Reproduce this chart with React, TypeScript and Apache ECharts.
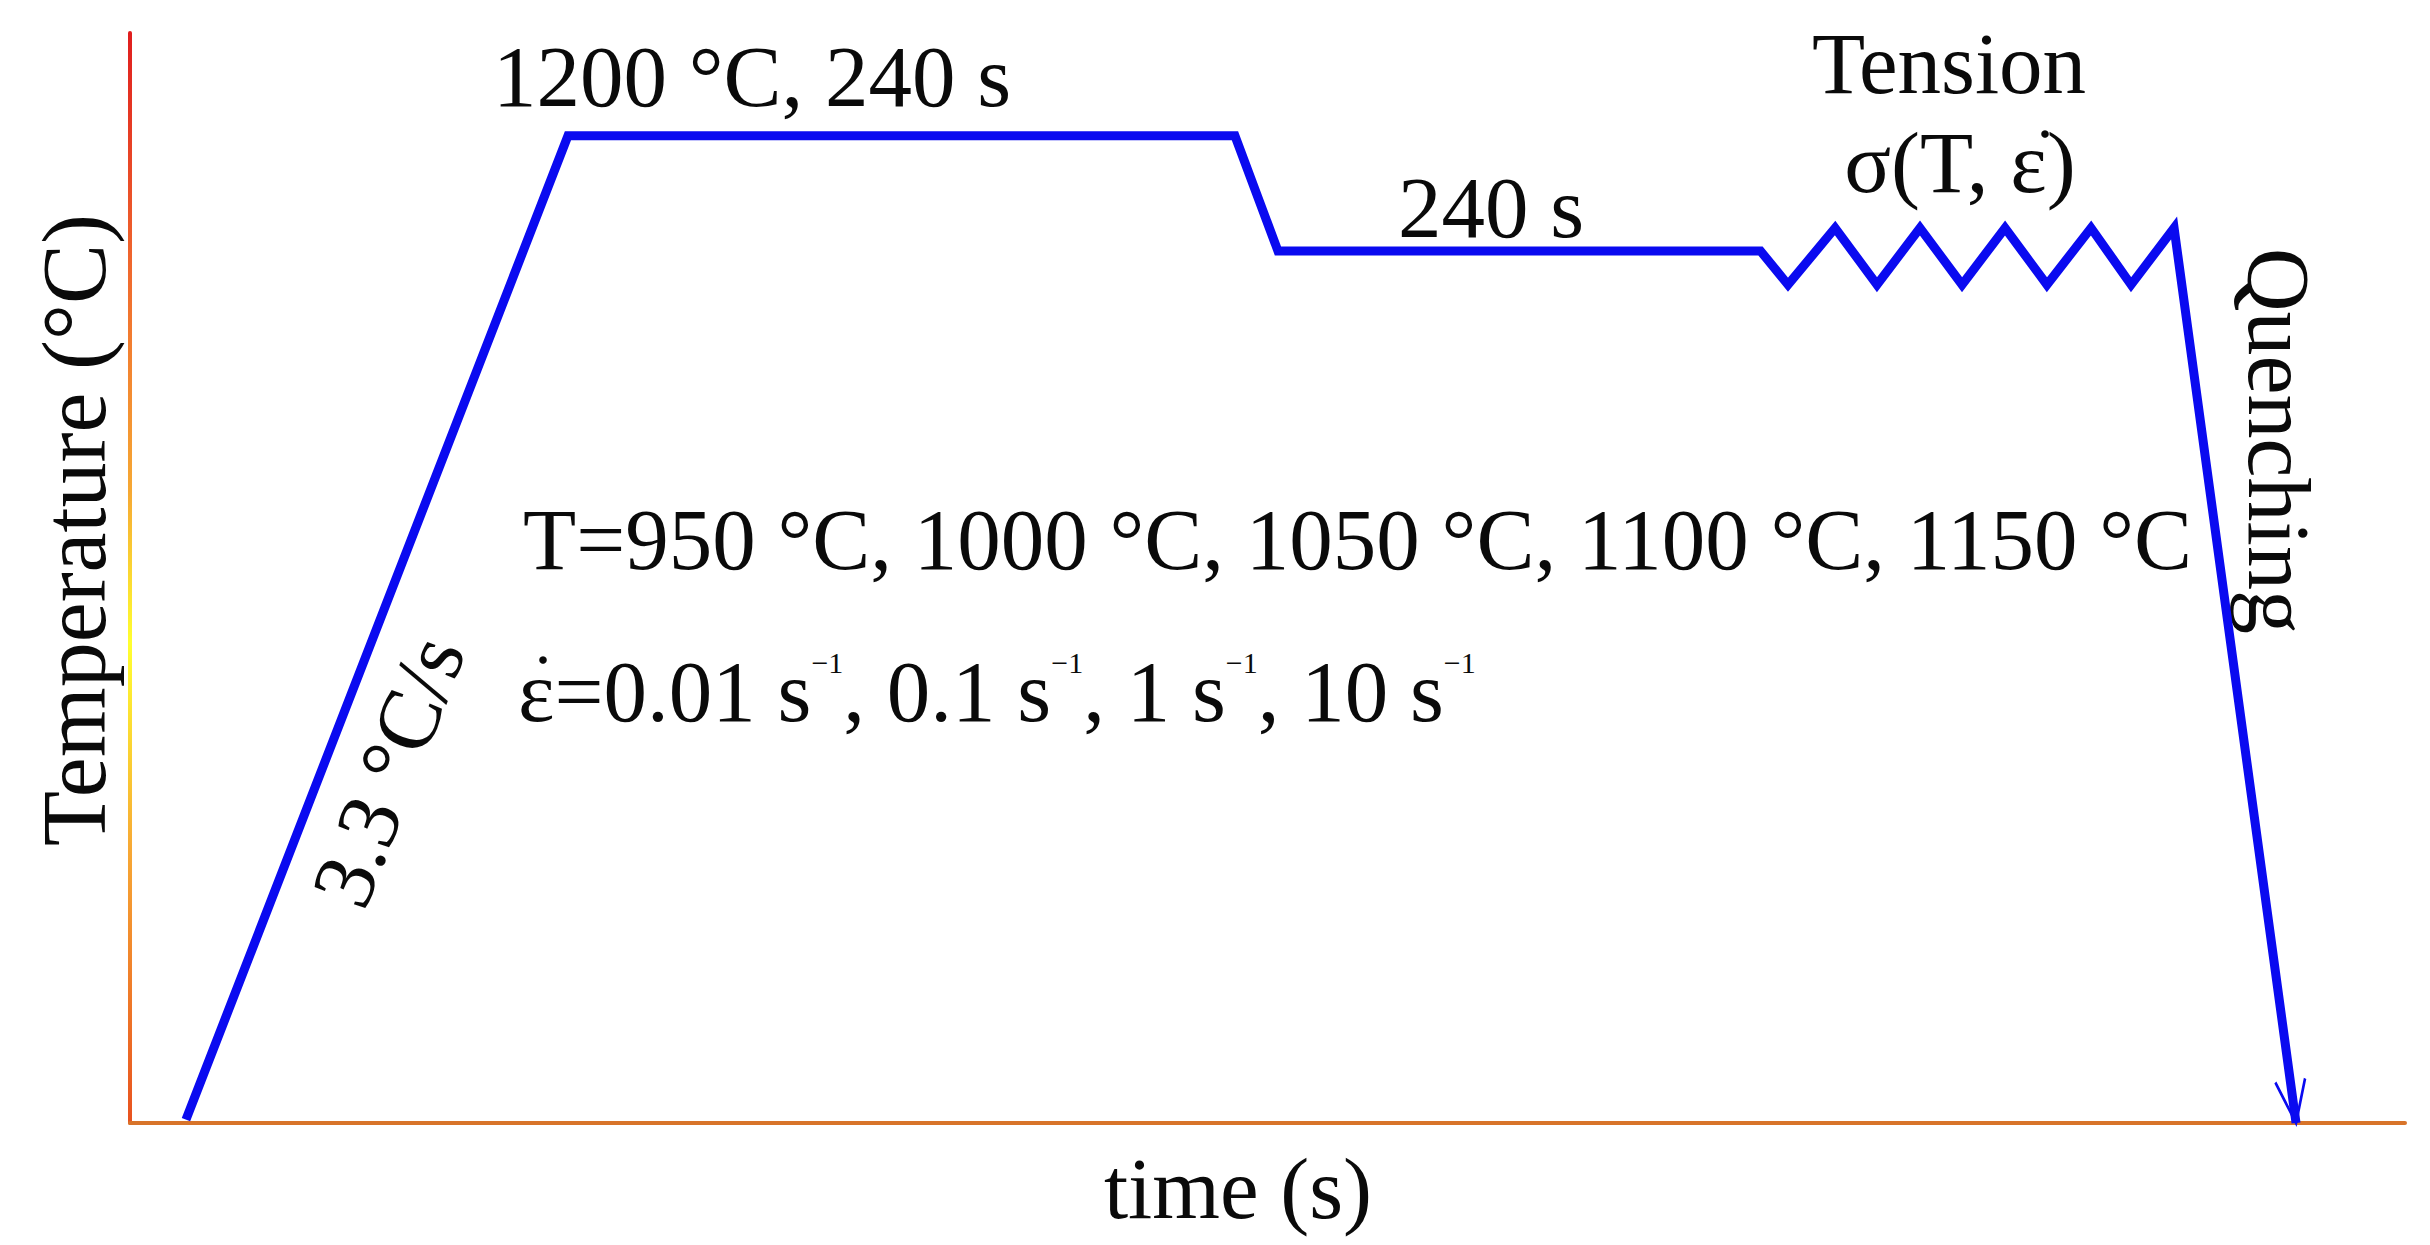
import React, { useEffect, useRef } from "react";
import * as echarts from "echarts";

// Schematic time axis (arbitrary units, 0..1000) and temperature (°C)
const timePoints = [24.6, 192.5, 485.7, 504.6, 716.7, 728.8, 749.5, 767.9, 786.8, 805.3, 824.2, 842.6, 862.0, 879.6, 898.5, 952.1];
const temperaturePoints = [4, 1200, 1200, 1060, 1060, 1019, 1088, 1019, 1088, 1019, 1088, 1019, 1088, 1019, 1088, 0];

const deformTemps = ["950", "1000", "1050", "1100", "1150"];
const strainRates = ["0.01", "0.1", "1", "10"];

const X_MIN = 0;
const X_MAX = 1000;
const Y_MIN = 0;
const Y_MAX = 1325;

const soakLabel = "1200 °C, 240 s";
const holdLabel = "240 s";
const tensionLabel = "Tension";
const stressLabel = "σ(T, ε)";
const quenchLabel = "Quenching";
const rateLabel = "3.3 °C/s";
const xName = "time (s)";
const yName = "Temperature (°C)";

const FONT = '"Liberation Serif", "Times New Roman", Times, serif';
const BLUE = "#0a0af0";
const TXT = "#0a0a0a";

export default function App() {
  const ref = useRef<HTMLDivElement>(null);

  useEffect(() => {
    if (!ref.current) return;
    const chart = echarts.init(ref.current, null, { renderer: "svg" });

    const tempLine = "T=" + deformTemps.map((t) => `${t} °C`).join(", ");
    const rateRich = strainRates
      .map((r, i) => `{m|${i === 0 ? "ε=" : ", "}${r} s}{sup|\u22121}`)
      .join("");

    const base = { fontFamily: FONT, fontSize: 87, fill: TXT };

    const lineData = timePoints.map((t, i) => {
      if (i === timePoints.length - 1) {
        return {
          value: [t, temperaturePoints[i]],
          symbol: "path://M0,0L15,43L30,0",
          symbolSize: [30, 43],
          symbolRotate: 7.8,
          symbolOffset: [-2.9, -21.3],
          itemStyle: { color: "rgba(0,0,0,0)", borderColor: BLUE, borderWidth: 3 },
        };
      }
      return [t, temperaturePoints[i]];
    });

    chart.setOption({
      animation: false,
      backgroundColor: "#ffffff",
      grid: { left: 130, right: 25, top: 33, bottom: 122, containLabel: false, outerBoundsMode: "none" },
      xAxis: {
        type: "value",
        min: X_MIN,
        max: X_MAX,
        axisLine: { show: true, onZero: false, lineStyle: { color: "#d8742a", width: 4 } },
        axisTick: { show: false },
        axisLabel: { show: false },
        splitLine: { show: false },
      },
      yAxis: {
        type: "value",
        min: Y_MIN,
        max: Y_MAX,
        axisLine: {
          show: true,
          onZero: false,
          lineStyle: {
            width: 4,
            color: new echarts.graphic.LinearGradient(
              0,
              33,
              0,
              1123,
              [
                { offset: 0, color: "#e01e1e" },
                { offset: 0.22, color: "#f06a2e" },
                { offset: 0.42, color: "#f6a834" },
                { offset: 0.56, color: "#ffff30" },
                { offset: 0.75, color: "#f7a835" },
                { offset: 1, color: "#e8521f" },
              ],
              true
            ),
          },
        },
        axisTick: { show: false },
        axisLabel: { show: false },
        splitLine: { show: false },
      },
      series: [
        {
          type: "line",
          data: lineData,
          symbol: "none",
          showSymbol: true,
          silent: true,
          clip: false,
          lineStyle: { color: BLUE, width: 9, join: "miter", miterLimit: 20, cap: "butt" },
          z: 3,
        },
      ],
      graphic: [
        { type: "text", x: 493, y: 76, style: { ...base, text: soakLabel, align: "left", verticalAlign: "middle" } },
        { type: "text", x: 1398, y: 207, style: { ...base, text: holdLabel, align: "left", verticalAlign: "middle" } },
        { type: "text", x: 1949, y: 63, style: { ...base, text: tensionLabel, align: "center", verticalAlign: "middle" } },
        { type: "text", x: 1960, y: 162, style: { ...base, text: stressLabel, align: "center", verticalAlign: "middle" } },
        { type: "circle", shape: { cx: 2045, cy: 134, r: 3.8 }, style: { fill: TXT } },
        { type: "text", x: 523, y: 539, style: { ...base, text: tempLine, align: "left", verticalAlign: "middle" } },
        {
          type: "text",
          x: 518,
          y: 691,
          style: {
            text: rateRich,
            align: "left",
            verticalAlign: "middle",
            fontFamily: FONT,
            fontSize: 87,
            fill: TXT,
            rich: {
              m: { fontFamily: FONT, fontSize: 87, lineHeight: 87, fill: TXT, verticalAlign: "middle" },
              sup: { fontFamily: FONT, fontSize: 30, lineHeight: 52, fill: TXT, verticalAlign: "top" },
            },
          },
        },
        { type: "circle", shape: { cx: 543, cy: 660, r: 3.8 }, style: { fill: TXT } },
        { type: "text", x: 1238, y: 1188, style: { ...base, text: xName, align: "center", verticalAlign: "middle" } },
        {
          type: "text",
          x: 74,
          y: 530,
          rotation: Math.PI / 2,
          style: { ...base, fontSize: 90, text: yName, align: "center", verticalAlign: "middle" },
        },
        {
          type: "text",
          x: 2278,
          y: 441,
          rotation: -Math.PI / 2,
          style: { ...base, fontSize: 88, text: quenchLabel, align: "center", verticalAlign: "middle" },
        },
        {
          type: "text",
          x: 388,
          y: 771,
          rotation: (68.8 * Math.PI) / 180,
          style: { ...base, text: rateLabel, align: "center", verticalAlign: "middle" },
        },
      ],
    });

    return () => chart.dispose();
  }, []);

  return (
    <div
      ref={ref}
      style={{ position: "absolute", left: 0, top: 0, width: 2430, height: 1245, background: "#fff" }}
    />
  );
}
